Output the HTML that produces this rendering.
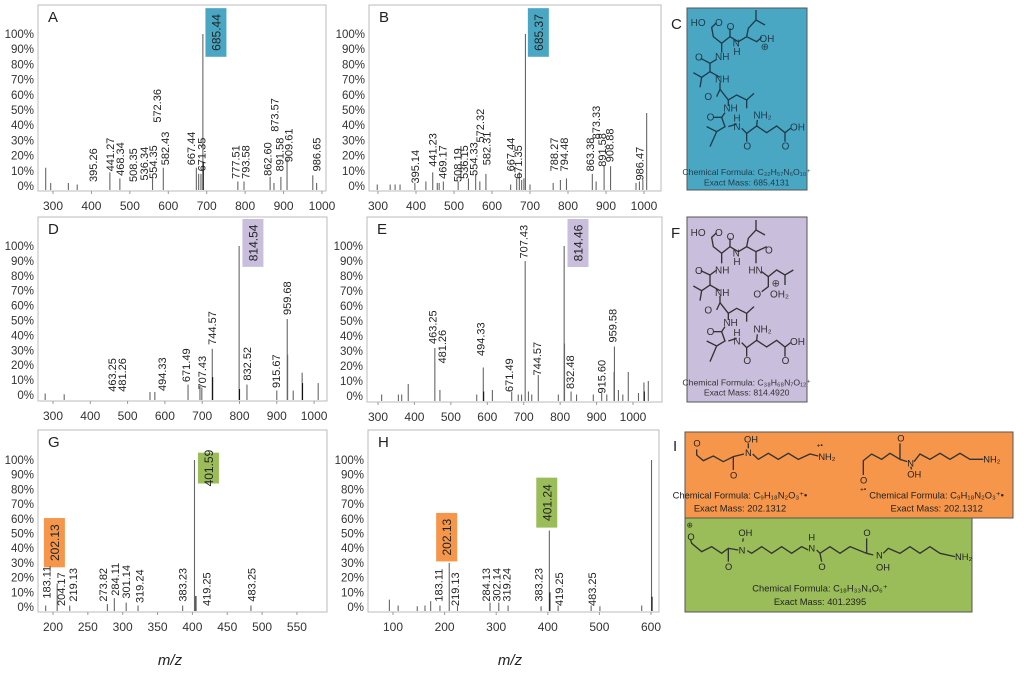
<!DOCTYPE html>
<html><head><meta charset="utf-8">
<style>
html,body{margin:0;padding:0;background:#fff;}
svg{display:block;font-family:"Liberation Sans",sans-serif;}
</style></head>
<body>
<svg id="fig" width="1024" height="677" viewBox="0 0 1024 677" xmlns="http://www.w3.org/2000/svg">
<g>
<text x="671" y="29" font-size="15" fill="#222">C</text>
<rect x="687" y="8" width="120" height="182" fill="#4aa7c4" stroke="#555" stroke-width="1"/>
<g transform="translate(670,0) scale(0.3333)" stroke="#1e3b4a" stroke-width="4" fill="none">
<polyline points="140,68 125,82 130,110 155,130 180,110 205,125 230,110 235,85 258,60 258,30"/><polyline points="258,60 285,75"/>
<polyline points="180,110 180,85"/><polyline points="230,110 260,125 275,112"/>
<polyline points="155,130 155,158"/><polyline points="140,178 120,190 120,215 95,232 70,218"/><polyline points="95,232 90,262"/><polyline points="120,190 92,175"/>
<polyline points="120,215 150,232"/><polyline points="150,248 150,268 140,290"/><polyline points="150,268 175,300 200,285 230,300 252,280"/><polyline points="230,300 230,325"/>
<polyline points="175,300 175,318"/><polyline points="165,338 155,352 165,380 140,395 110,380"/><polyline points="140,395 120,440"/><polyline points="155,352 130,352"/>
<polyline points="175,380 200,372"/><polyline points="215,385 230,400 260,378 290,398 320,378 345,398 362,385"/><polyline points="230,400 230,425"/><polyline points="345,398 345,425"/><polyline points="260,378 262,360"/>
</g>
<g transform="translate(670,0) scale(0.3333)" font-size="30" fill="#1e3b4a">
<text x="62" y="78">HO</text><text x="135" y="78">O</text><text x="170" y="90">O</text><text x="188" y="140">N</text><text x="190" y="165">H</text><text x="268" y="126">OH</text><text x="272" y="150">⊕</text>
<text x="135" y="180">NH</text><text x="75" y="182">O</text><text x="135" y="248">NH</text><text x="103" y="300">O</text><text x="160" y="335">NH</text><text x="110" y="362">O</text>
<text x="190" y="365">H</text><text x="190" y="390">N</text><text x="250" y="355">NH₂</text><text x="360" y="392">OH</text><text x="220" y="448">O</text><text x="335" y="448">O</text>
<text x="230" y="525" font-size="26" text-anchor="middle">Chemical Formula: C₃₂H₅₇N₆O₁₀⁺</text>
<text x="230" y="556" font-size="26" text-anchor="middle">Exact Mass: 685.4131</text>
</g>
</g>
<g>
<text x="671" y="238" font-size="15" fill="#222">F</text>
<rect x="687" y="217" width="120" height="185" fill="#c9bfdc" stroke="#555" stroke-width="1"/>
<g transform="translate(670,210) scale(0.3333)" stroke="#333" stroke-width="4" fill="none">
<polyline points="140,68 125,82 130,110 155,130 180,110 205,125 230,110 258,125 290,110"/><polyline points="230,110 235,85 258,60 258,30"/><polyline points="258,60 285,75"/><polyline points="258,125 258,160"/>
<polyline points="180,110 180,85"/><polyline points="275,185 295,200 320,180 345,195 370,180"/><polyline points="345,195 345,225"/><polyline points="295,200 295,230 275,245"/>
<polyline points="155,130 155,160"/><polyline points="140,180 120,195 120,225 95,242 70,228"/><polyline points="95,242 90,272"/><polyline points="120,195 92,182"/>
<polyline points="120,225 150,242"/><polyline points="150,258 150,278 140,300"/><polyline points="150,278 175,310 200,295 230,310 252,290"/><polyline points="230,310 230,335"/>
<polyline points="175,310 175,330"/><polyline points="165,350 155,365 165,393 140,408 110,393"/><polyline points="140,408 120,455"/><polyline points="155,365 130,365"/>
<polyline points="175,393 200,385"/><polyline points="215,398 230,413 260,391 290,411 320,391 345,411 362,398"/><polyline points="230,413 230,440"/><polyline points="345,411 345,440"/><polyline points="260,391 262,373"/>
</g>
<g transform="translate(670,210) scale(0.3333)" font-size="30" fill="#333">
<text x="62" y="78">HO</text><text x="135" y="78">O</text><text x="170" y="90">O</text><text x="188" y="140">N</text><text x="190" y="165">H</text><text x="285" y="130">O</text>
<text x="235" y="190">HN</text><text x="135" y="190">NH</text><text x="75" y="192">O</text><text x="305" y="230">⊕</text><text x="250" y="262">O</text><text x="300" y="262">OH₂</text>
<text x="135" y="258">NH</text><text x="103" y="310">O</text><text x="160" y="348">NH</text><text x="110" y="375">O</text>
<text x="190" y="378">H</text><text x="190" y="403">N</text><text x="250" y="368">NH₂</text><text x="360" y="405">OH</text><text x="220" y="462">O</text><text x="335" y="462">O</text>
<text x="230" y="527" font-size="26" text-anchor="middle">Chemical Formula: C₃₈H₆₈N₇O₁₂⁺</text>
<text x="230" y="557" font-size="26" text-anchor="middle">Exact Mass: 814.4920</text>
</g>
</g>
<g>
<text x="673" y="451" font-size="15" fill="#222">I</text>
<rect x="685" y="432" width="328" height="86" fill="#f5964a" stroke="#555" stroke-width="1"/>
<rect x="685" y="518" width="287" height="94" fill="#9bbd59" stroke="#555" stroke-width="1"/>
<g transform="translate(670,430) scale(0.3333)" stroke="#333" stroke-width="4" fill="none">
<polyline points="80,58 80,75 100,92 130,78 160,95 190,80 222,72"/><polyline points="190,80 190,120"/><polyline points="235,55 235,40"/><polyline points="248,72 265,88 295,70 325,88 355,70 385,88 420,72 445,78"/>
<polyline points="580,135 580,92 605,72 635,88 660,70 690,88 690,40"/><polyline points="690,88 712,95"/><polyline points="722,110 725,118"/><polyline points="732,95 750,72 780,88 810,70 840,88 870,70 900,88 940,88"/>
<polyline points="62,330 65,340 95,365 125,350 155,370 175,355 205,360"/><polyline points="175,355 175,395"/><polyline points="218,335 220,325"/><polyline points="232,362 245,370 275,350 305,370 335,350 365,370 395,350 415,360"/>
<polyline points="440,360 450,370 480,350 510,370 540,350 590,370 610,375"/><polyline points="450,370 455,395"/><polyline points="590,370 590,325"/><polyline points="640,370 655,355 690,370 720,350 750,370 780,350 810,370 855,380"/>
</g>
<g transform="translate(670,430) scale(0.3333)" font-size="28" fill="#222">
<text x="70" y="50">O</text><text x="225" y="78">N</text><text x="222" y="38">OH</text><text x="180" y="145">O</text><text x="445" y="90">NH₂</text><text x="440" y="52" font-size="20">+•</text>
<text x="570" y="160">O</text><text x="570" y="185" font-size="20">+•</text><text x="682" y="35">O</text><text x="712" y="110">N</text><text x="712" y="142">OH</text><text x="940" y="98">NH₂</text>
<text x="210" y="205" text-anchor="middle" font-size="28">Chemical Formula: C₉H₁₈N₂O₃⁺•</text>
<text x="210" y="245" text-anchor="middle" font-size="28">Exact Mass: 202.1312</text>
<text x="800" y="205" text-anchor="middle" font-size="28">Chemical Formula: C₉H₁₈N₂O₃⁺•</text>
<text x="800" y="245" text-anchor="middle" font-size="28">Exact Mass: 202.1312</text>
<text x="50" y="292" font-size="22">⊕</text><text x="52" y="330">O</text><text x="206" y="370">N</text><text x="205" y="318">OH</text><text x="165" y="420">O</text>
<text x="415" y="332">H</text><text x="415" y="365">N</text><text x="445" y="420">O</text><text x="580" y="318">O</text><text x="618" y="385">N</text><text x="618" y="422">OH</text><text x="855" y="390">NH₂</text>
<text x="450" y="485" text-anchor="middle" font-size="28">Chemical Formula: C₁₈H₃₃N₄O₆⁺</text>
<text x="450" y="525" text-anchor="middle" font-size="28">Exact Mass: 401.2395</text>
</g>
</g>
<text x="170" y="665" font-size="15" font-style="italic" text-anchor="middle" fill="#222">m/z</text>
<text x="510" y="665" font-size="15" font-style="italic" text-anchor="middle" fill="#222">m/z</text>
</svg>
<script>
// ---- Panel A ----
const aMz=[281,294,340,363,448,474,559,587,673,679,685,690,691,781,797,865,875,893,909,976,986];
const aInt=[12,2,2,1,9,5,5,12,12,8,8,100,16,3,3,6,2,6,18,7,2];
const aLabels=["395.26","441.27","468.34","508.35","536.34","554.35","572.36","582.43","667.44","671.35","777.51","793.58","862.60","873.57","891.58","909.61","986.65"];
const aLabelMz=[404,448,474,508,537,560,571,591,659,686,775,801,858,876,889,913,986];
const aLabelBase=[2,9,6,2,3,4,41,13,13,9,4,4,6,35,9,15,9];
const aBoxText=["685.44"];const aBoxMz=[724];const aBoxTop=[117];const aBoxBot=[85];const aBoxColor=["#4aa7c4"];
// ---- Panel B ----
const bMz=[298,332,345,358,397,426,444,456,461,472,511,538,557,568,584,649,665,672,678,684,688,700,761,780,796,864,874,895,912,979,988,997,1007];
const bInt=[1,1,1,1,2,3,9,2,2,3,3,5,8,3,8,1,5,9,4,5,100,1,2,4,5,8,3,13,13,2,3,4,48];
const bLabels=["395.14","441.23","469.17","508.19","536.15","554.33","572.32","582.31","667.44","671.35","788.27","794.48","863.38","873.33","891.58","908.88","986.47"];
const bLabelMz=[397,444,470,509,526,551,568,586,649,669,763,789,858,874,889,909,988];
const bLabelBase=[1,12,4,2,4,6,28,13,9,4,9,9,9,30,12,15,3];
const bBoxText=["685.37"];const bBoxMz=[722];const bBoxTop=[117];const bBoxBot=[85];const bBoxColor=["#4aa7c4"];
// ---- Panel D ----
const dMz=[279,330,560,573,662,694,699,727,728,799,800,820,900,928,929,944,968,969,1011];
const dInt=[1,0.5,2,2,7,6,5,31,12,100,4,7,3,51,27,3,15,8,8];
const dLabels=["463.25","481.26","494.33","671.49","707.43","744.57","832.52","915.67","959.68"];
const dLabelMz=[458,485,592,657,699,726,820,898,927];
const dLabelBase=[1.5,1.5,2,8,3,33,9,4,53];
const dBoxText=["814.54"];const dBoxMz=[836];const dBoxTop=[119];const dBoxBot=[86];const dBoxColor=["#c9bfdc"];
// ---- Panel E ----
const eMz=[310,356,365,383,456,470,571,589,590,614,667,685,694,704,713,722,740,795,811,812,830,845,891,914,928,948,949,960,972,987,1015,1030,1031,1042];
const eInt=[1,1,1,8,32,4,1,19,3,4,3,1,1,90,3,1,14,1,100,35,3,1,1,2,1,16,33,4,1,16,2,9,3,10];
const eLabels=["463.25","481.26","494.33","671.49","707.43","744.57","832.48","915.60","959.58"];
const eLabelMz=[450,475,582,660,699,736,827,914,944];
const eLabelBase=[34,21,26,2,91,13,4,1,35];
const eBoxText=["814.46"];const eBoxMz=[849];const eBoxTop=[119];const eBoxBot=[86];const eBoxColor=["#c9bfdc"];
// ---- Panel G ----
const gMz=[189.5,206,224,278,288,305,322,386,403,405,484];
const gInt=[1,16,1,2,6,3,1,1,100,7.5,1];
const gLabels=["183.11","204.17","219.13","273.82","284.11","301.14","319.24","383.23","419.25","483.25"];
const gLabelMz=[191,211.5,229,272,289,305,324,386,420,485];
const gLabelBase=[5,0,3,3,7,5,2,3,0,3];
const gBoxText=["202.13","401.59"];const gBoxMz=[202,423];const gBoxTop=[60.5,105];const gBoxBot=[27,84];const gBoxColor=["#f5964a","#9bbd59"];
// ---- Panel H ----
const hMz=[93,110,147,162,173,191,209,225,288,305,323,387,403,404,420,484,501,582,601,602];
const hInt=[5,1,0.5,1,4,1,30,1,3,3,1,0.5,52,10,1,1,0.5,1,100,7];
const hLabels=["183.11","219.13","284.13","302.14","319.24","383.23","419.25","483.25"];
const hLabelMz=[188,220,280,301,320,382,422,486];
const hLabelBase=[3,0,3,3,3,3,0,0];
const hBoxText=["202.13","401.24"];const hBoxMz=[204,398];const hBoxTop=[64,88];const hBoxBot=[31,54];const hBoxColor=["#f5964a","#9bbd59"];
// tick arrays
const ticksWide=[300,400,500,600,700,800,900,1000];
const ticksG=[200,250,300,350,400,450,500,550];
const ticksH=[100,200,300,400,500,600];
const pctTicks=[0,10,20,30,40,50,60,70,80,90,100];

const NS="http://www.w3.org/2000/svg";
const svg=document.getElementById('fig');
function mk(tag,attrs,parent){const e=document.createElementNS(NS,tag);for(const k in attrs)e.setAttribute(k,attrs[k]);(parent||svg).appendChild(e);return e;}

function panel(name,letter,fr,mz0,px0,k,y0,s,ticks,mz,inten,lab,labMz,labBase,bt,bmz,btop,bbot,bcol){
  const g=mk('g',{});
  
  
  const X=m=>px0+(m-mz0)*k, Y=p=>y0-p*s;
  const fb=mk('rect',{x:fr[0],y:fr[1],width:fr[2]-fr[0],height:fr[3]-fr[1],fill:'none',stroke:'#bbb','stroke-width':1},g);
  
  
  const lt=mk('text',{x:fr[0]+10,y:fr[1]+17,'font-size':15,fill:'#222'},g);lt.textContent=letter;
  
  
  pctTicks.forEach(p=>{const t=mk('text',{x:fr[0]-4,y:Y(p)+4,'font-size':11.5,'text-anchor':'end',fill:'#333'},g);t.textContent=p+'%';
    
    });
  ticks.forEach(v=>{const x=X(v);mk('line',{x1:x,x2:x,y1:fr[3],y2:fr[3]+3,stroke:'#999'},g);
    const t=mk('text',{x:x,y:fr[3]+19,'font-size':12,'text-anchor':'middle',fill:'#333'},g);t.textContent=v;
    
    });
  for(let i=0;i<bt.length;i++){
    const x=X(bmz[i]),top=Math.max(fr[1]+2,Y(btop[i])),bot=Y(bbot[i]);
    const r=mk('rect',{x:x-10.5,y:top,width:21,height:bot-top,fill:bcol[i]},g);
    
    
    const t=mk('text',{x:0,y:0,'font-size':12,'text-anchor':'middle',fill:'#222',transform:`translate(${x+4.5},${(top+bot)/2}) rotate(-90)`},g);t.textContent=bt[i];
    
    
  }
  for(let i=0;i<mz.length;i++){
    const x=X(mz[i]);
    const l=mk('line',{x1:x,x2:x,y1:fr[3]-1,y2:Y(inten[i]),stroke:inten[i]<20&&i>0&&mz[i]-mz[i-1]<3?'#111':'#666','stroke-width':1.1},g);
    
    
  }
  for(let i=0;i<lab.length;i++){
    const x=X(labMz[i]),y=Y(labBase[i])-1;
    const t=mk('text',{x:0,y:0,'font-size':11,fill:'#222',transform:`translate(${x+4},${y}) rotate(-90)`},g);t.textContent=lab[i];
    
    
  }
}
panel('a','A',[38,5,326,191],300,53,0.3843,186,1.52,ticksWide,aMz,aInt,aLabels,aLabelMz,aLabelBase,aBoxText,aBoxMz,aBoxTop,aBoxBot,aBoxColor);
panel('b','B',[369,5,661,191],300,378,0.38,186,1.52,ticksWide,bMz,bInt,bLabels,bLabelMz,bLabelBase,bBoxText,bBoxMz,bBoxTop,bBoxBot,bBoxColor);
panel('d','D',[38,217,327,401],300,53,0.373,395,1.49,ticksWide,dMz,dInt,dLabels,dLabelMz,dLabelBase,dBoxText,dBoxMz,dBoxTop,dBoxBot,dBoxColor);
panel('e','E',[367,217,662,402],300,378,0.3643,396,1.5,ticksWide,eMz,eInt,eLabels,eLabelMz,eLabelBase,eBoxText,eBoxMz,eBoxTop,eBoxBot,eBoxColor);
panel('g','G',[38,430,327,612],200,53,0.697,607,1.47,ticksG,gMz,gInt,gLabels,gLabelMz,gLabelBase,gBoxText,gBoxMz,gBoxTop,gBoxBot,gBoxColor);
panel('h','H',[368,430,659,612],100,393,0.516,607,1.47,ticksH,hMz,hInt,hLabels,hLabelMz,hLabelBase,hBoxText,hBoxMz,hBoxTop,hBoxBot,hBoxColor);
</script>
</body></html>
